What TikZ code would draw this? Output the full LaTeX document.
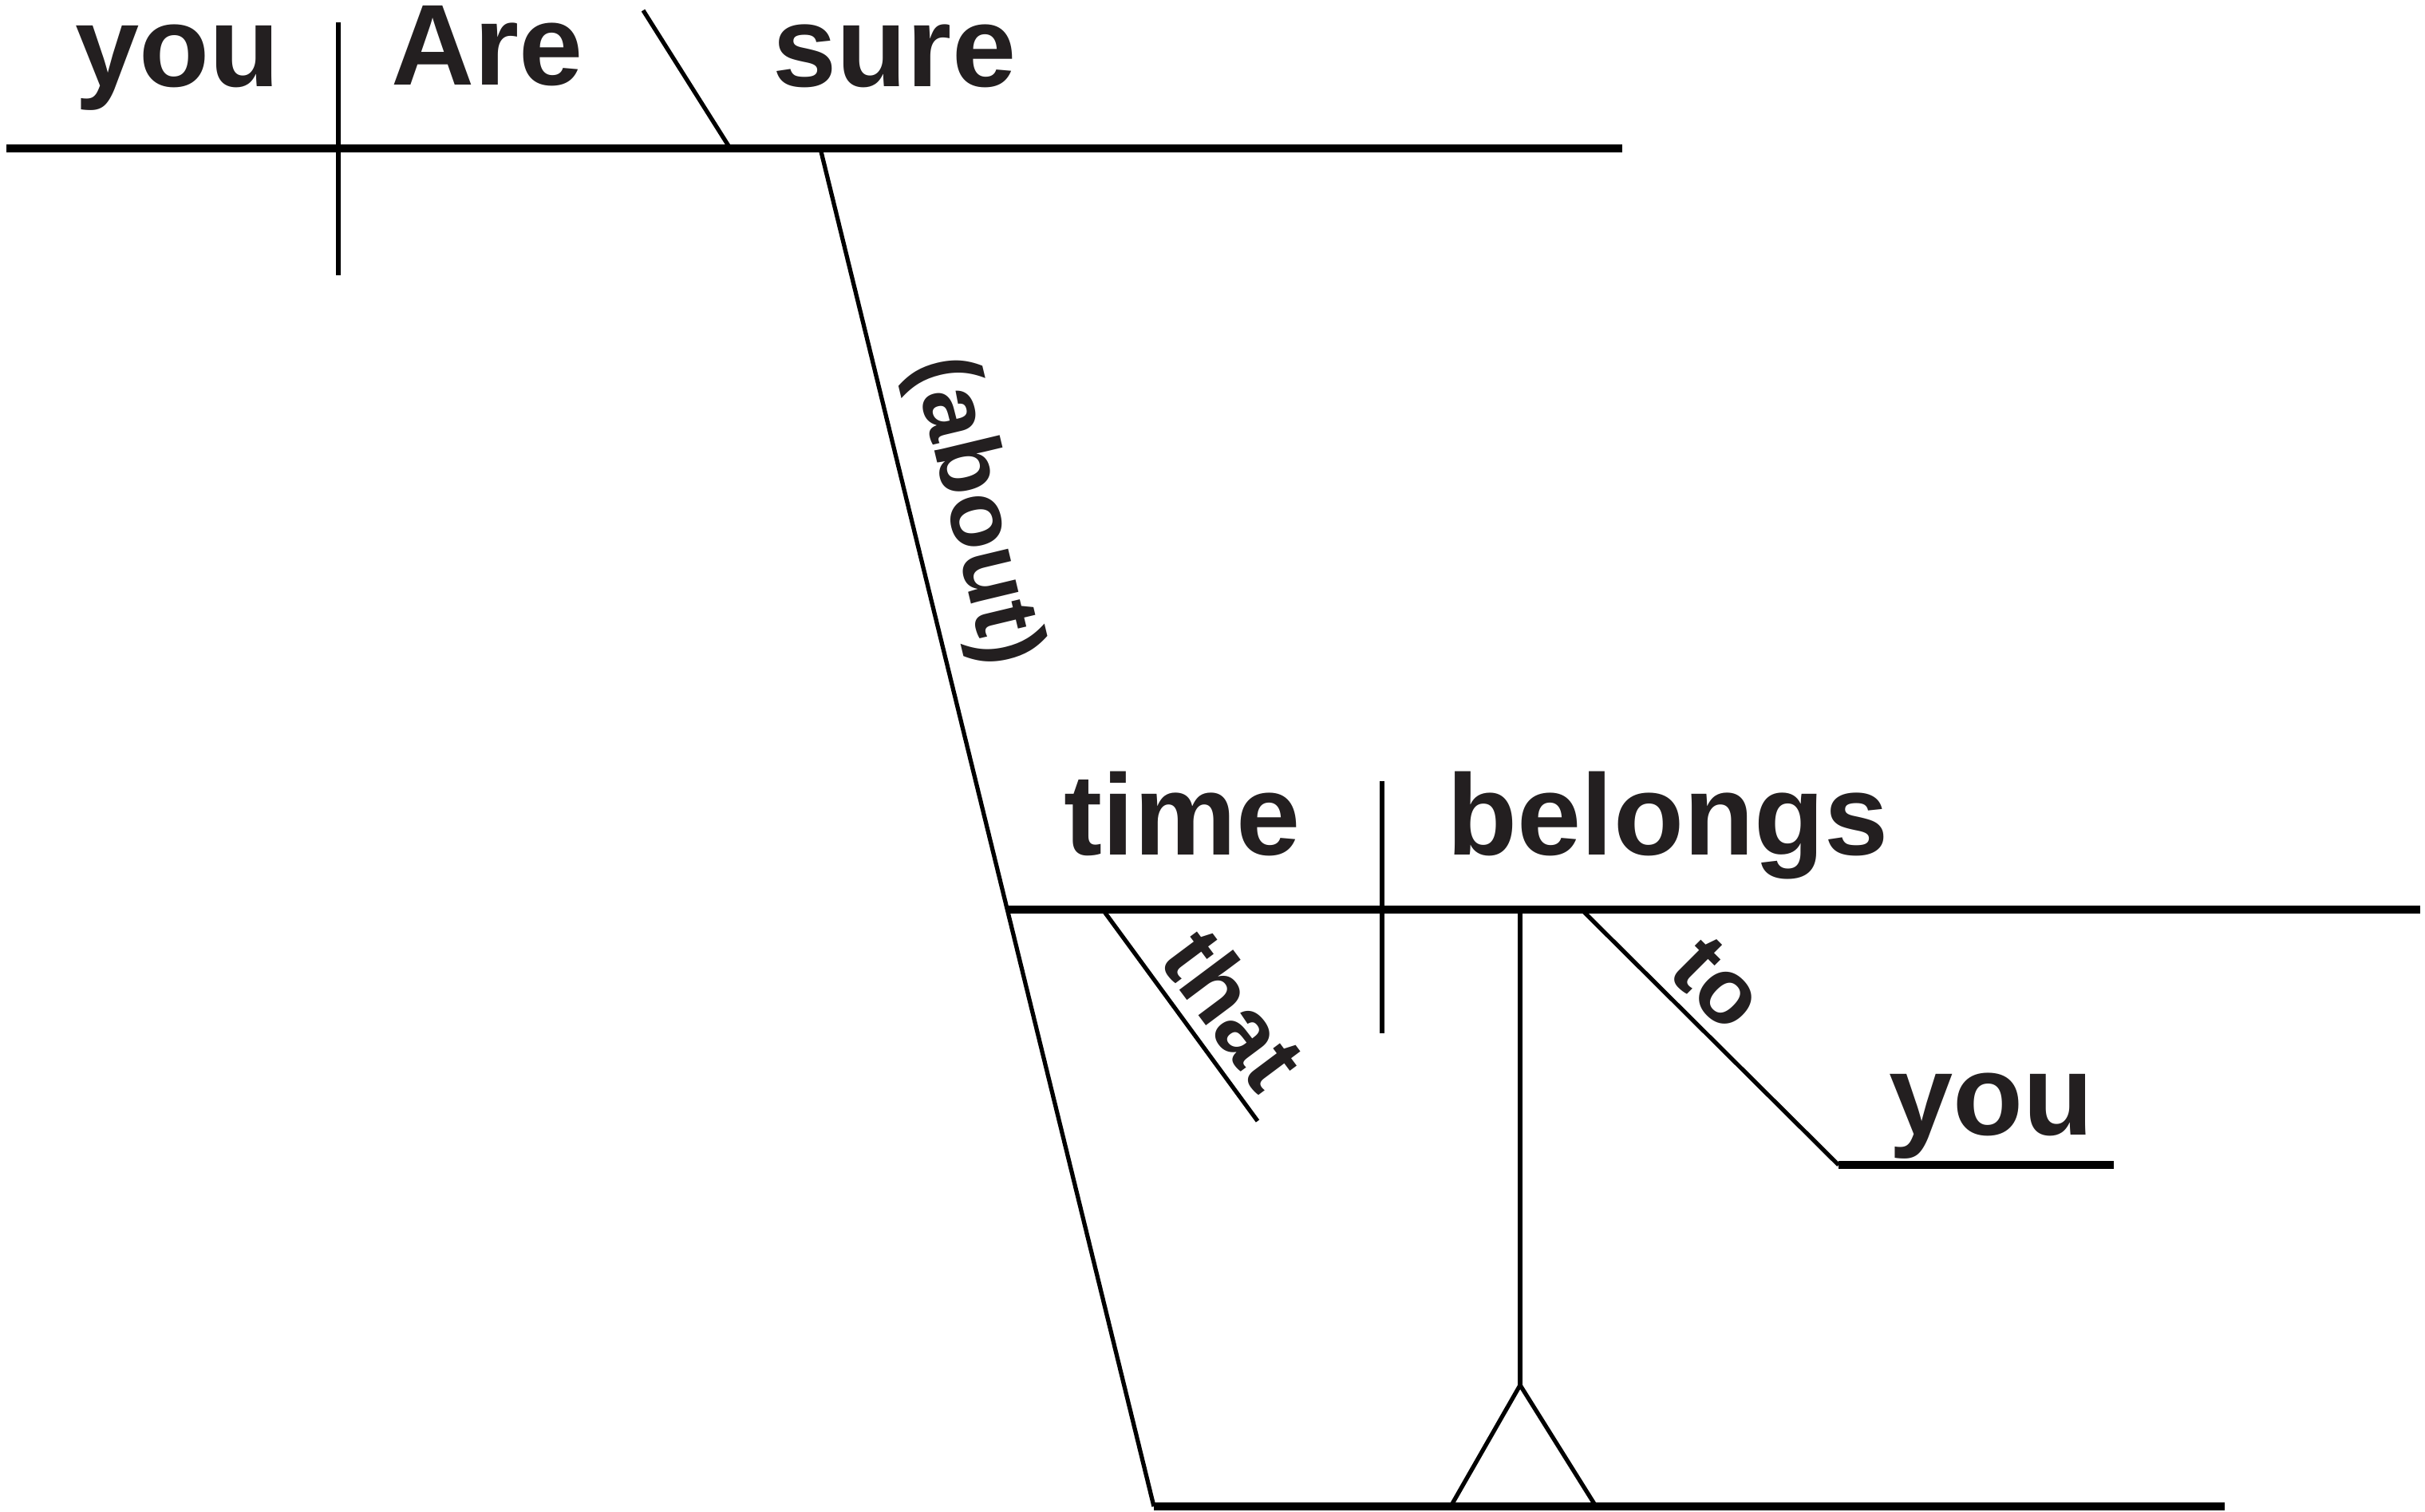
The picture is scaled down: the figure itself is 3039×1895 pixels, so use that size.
\documentclass[tikz,border=0pt]{standalone}
\usepackage{fontspec}
\setmainfont{Liberation Sans}
\definecolor{wordcol}{RGB}{35,31,32}
\begin{document}
\begin{tikzpicture}[x=0.01cm,y=-0.01cm,
  word/.style={font=\fontsize{41}{49}\selectfont\bfseries, text=wordcol, inner sep=0pt, text height=0.72em, text depth=0.2em},
  slantword/.style={font=\fontsize{33}{40}\selectfont\bfseries, text=wordcol, inner sep=0pt, anchor=center},
  baseline line/.style={line width=2.6pt},
  thin line/.style={line width=1.5pt}]
\useasboundingbox (0,0) rectangle (3039,1895);
% coordinates
\coordinate (b1L) at (8,186);
\coordinate (b1R) at (2033,186);
\coordinate (d1T) at (424,28);
\coordinate (d1B) at (424,345);
\coordinate (sT) at (806,13);
\coordinate (sB) at (915,186);
\coordinate (abT) at (1028,186);
\coordinate (abB) at (1446,1888);
\coordinate (b2L) at (1262,1140);
\coordinate (b2R) at (3033,1140);
\coordinate (d2T) at (1732,979);
\coordinate (d2B) at (1732,1295);
\coordinate (thT) at (1382,1140);
\coordinate (thB) at (1576,1405);
\coordinate (vT) at (1905,1140);
\coordinate (vF) at (1905,1736);
\coordinate (fL) at (1818,1888);
\coordinate (fR) at (2000,1888);
\coordinate (toT) at (1982,1140);
\coordinate (toB) at (2304,1460);
\coordinate (toR) at (2649,1460);
\coordinate (b3R) at (2788,1888);
% words
\node[word, anchor=base west] (you1) at (94,109) {you};
\node[word, anchor=base west] (are) at (490,107) {Are};
\node[word, anchor=base west] (sure) at (968,109) {sure};
\node[word, anchor=base west] (time) at (1333,1071) {time};
\node[word, anchor=base west] (belongs) at (1813,1071) {belongs};
\node[word, anchor=base west] (you2) at (2367,1422) {you};
\node[slantword, rotate=-76.5] (about) at (1220,641) {(about)};
\node[slantword, rotate=-53.2] (that) at (1547,1264) {that};
\node[slantword, rotate=-45] (to) at (2153,1233) {to};
% lines
\draw[baseline line] (b1L) -- (b1R);
\draw[thin line] (d1T) -- (d1B);
\draw[thin line] (sT) -- (sB);
\draw[thin line] (abT) -- (abB);
\draw[baseline line] (b2L) -- (b2R);
\draw[thin line] (d2T) -- (d2B);
\draw[thin line] (thT) -- (thB);
\draw[thin line] (vT) -- (vF);
\draw[thin line] (fL) -- (vF) -- (fR);
\draw[thin line] (toT) -- (toB);
\draw[baseline line] (toB) -- (toR);
\draw[baseline line] (abB) -- (b3R);
\end{tikzpicture}
\end{document}
